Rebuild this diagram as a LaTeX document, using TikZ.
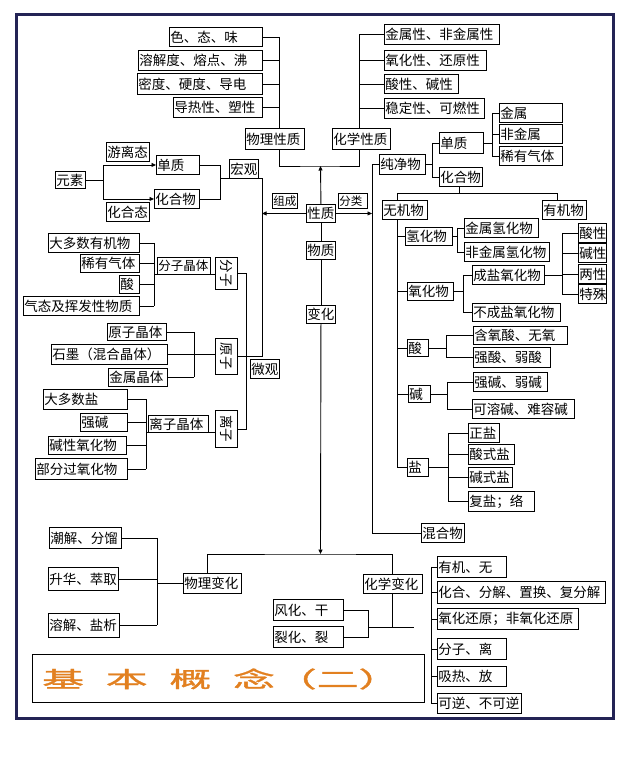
\documentclass[tikz,border=0pt]{standalone}
\usepackage{fontspec}
\usepackage{graphicx}
\setmainfont{Noto Sans CJK SC}
\newfontfamily\titlefont[FakeBold=1.2]{Noto Sans CJK SC}
\usetikzlibrary{arrows.meta}
\definecolor{framecol}{RGB}{35,35,85}
\definecolor{titlecol}{RGB}{226,128,32}
\tikzset{
 box/.style={draw, line width=0.9pt, inner xsep=1pt, inner ysep=0pt, font=\fontsize{13.5}{14}\selectfont},
 smallf/.style={font=\fontsize{11.5}{12}\selectfont},
 midf/.style={font=\fontsize{12.5}{13}\selectfont},
 ln/.style={line width=0.9pt},
 arr/.style={line width=0.9pt,-{Triangle[length=4.5pt,width=4pt]}},
}
\newcommand\bxn[7]{\node[box,anchor=north west,minimum height={(#6-#4)*1pt},#1] (#2) at (#3,#4) {\makebox[\dimexpr#5pt-#3pt-2pt\relax][l]{#7}};}
\begin{document}
\begin{tikzpicture}[x=1pt,y=-1pt]
\useasboundingbox (0,0) rectangle (628,766);
\fill[white] (0,0) rectangle (628,766);
\draw[line width=3pt,framecol] (16,14) rectangle (613,718);

% physical properties
\bxn{}{p1}{169}{27}{262}{46}{色、态、味}
\bxn{}{p2}{138}{50}{262}{70}{溶解度、熔点、沸}
\bxn{}{p3}{137}{73}{262}{94}{密度、硬度、导电}
\bxn{}{p4}{173}{97}{262}{117}{导热性、塑性}
\bxn{}{wlxz}{245}{128}{304}{149}{物理性质}
% chemical properties
\bxn{}{c1}{384}{24}{499}{44}{金属性、非金属性}
\bxn{}{c2}{384}{50}{486}{70}{氧化性、还原性}
\bxn{}{c3}{384}{74}{458}{93}{酸性、碱性}
\bxn{}{c4}{384}{98}{484}{118}{稳定性、可燃性}
\bxn{}{hxxz}{332}{128}{390}{149}{化学性质}
% centre
\bxn{}{xz}{306}{204}{335}{222}{性质}
\bxn{}{wz}{306}{241}{335}{259}{物质}
\bxn{}{bh}{306}{305}{335}{323}{变化}
\bxn{smallf}{zc}{272}{193}{297}{208}{组成}
\bxn{smallf}{fl}{338}{193}{367}{208}{分类}
% macro
\bxn{}{yuansu}{55}{171}{85}{188}{元素}
\bxn{}{yltai}{106}{142}{149}{161}{游离态}
\bxn{}{hhtai}{106}{202}{149}{221}{化合态}
\bxn{}{dz1}{156}{155}{199}{174}{单质}
\bxn{}{hhw1}{154}{189}{199}{208}{化合物}
\bxn{}{hg}{229}{159}{258}{178}{宏观}
% micro
\bxn{}{fz}{215}{257}{237}{289}{\hfill\rotatebox{-90}{分子}\hfill}
\bxn{}{yz}{215}{338}{237}{374}{\hfill\rotatebox{-90}{原子}\hfill}
\bxn{}{lz}{215}{410}{237}{447}{\hfill\rotatebox{-90}{离子}\hfill}
\bxn{}{wg}{250}{359}{279}{378}{微观}
\bxn{}{m1}{48}{233}{139}{252}{大多数有机物}
\bxn{}{m2}{80}{254}{139}{272}{稀有气体}
\bxn{}{m3}{119}{275}{139}{293}{酸}
\bxn{}{m4}{23}{296}{139}{315}{气态及挥发性物质}
\bxn{midf}{fzjt}{157}{257}{210}{274}{分子晶体}
\bxn{}{a1}{107}{323}{166}{340}{原子晶体}
\bxn{}{a2}{51}{344}{167}{364}{石墨（混合晶体）}
\bxn{}{a3}{108}{368}{167}{386}{金属晶体}
\bxn{}{i1}{43}{389}{127}{409}{大多数盐}
\bxn{}{i2}{80}{413}{127}{431}{强碱}
\bxn{}{i3}{48}{436}{126}{454}{碱性氧化物}
\bxn{}{i4}{35}{458}{127}{479}{部分过氧化物}
\bxn{}{lzjt}{148}{415}{208}{432}{离子晶体}
% classification
\bxn{}{cjw}{379}{154}{425}{174}{纯净物}
\bxn{}{dz2}{439}{132}{483}{153}{单质}
\bxn{}{hhw2}{439}{167}{482}{186}{化合物}
\bxn{}{jinshu}{499}{103}{562}{122}{金属}
\bxn{}{feijinshu}{499}{124}{562}{143}{非金属}
\bxn{}{xiyou}{499}{146}{562}{165}{稀有气体}
\bxn{}{wjw}{382}{200}{427}{219}{无机物}
\bxn{}{yjw}{542}{200}{586}{219}{有机物}
\bxn{}{qhw}{405}{227}{452}{245}{氢化物}
\bxn{}{yhw}{407}{282}{453}{300}{氧化物}
\bxn{}{suan}{407}{339}{428}{356}{酸}
\bxn{}{jian}{408}{385}{430}{402}{碱}
\bxn{}{yan}{407}{458}{428}{476}{盐}
\bxn{}{jsqhw}{464}{218}{538}{237}{金属氢化物}
\bxn{}{fjsqhw}{464}{242}{549}{261}{非金属氢化物}
\bxn{}{cyyhw}{472}{265}{544}{284}{成盐氧化物}
\bxn{}{bcyyhw}{472}{303}{560}{321}{不成盐氧化物}
\bxn{}{sx}{578}{223}{606}{242}{酸性}
\bxn{}{jx}{578}{243}{606}{262}{碱性}
\bxn{}{lx}{578}{264}{606}{283}{两性}
\bxn{}{ts}{578}{284}{606}{303}{特殊}
\bxn{}{hys}{473}{326}{567}{344}{含氧酸、无氧}
\bxn{}{qs}{473}{347}{550}{367}{强酸、弱酸}
\bxn{}{qj}{473}{372}{547}{391}{强碱、弱碱}
\bxn{}{krj}{472}{399}{574}{418}{可溶碱、难容碱}
\bxn{}{zy}{468}{423}{499}{442}{正盐}
\bxn{}{sy}{468}{444}{514}{464}{酸式盐}
\bxn{}{jy}{468}{467}{512}{487}{碱式盐}
\bxn{}{fy}{468}{491}{534}{511}{复盐；络}
\bxn{}{hhwu}{421}{523}{464}{542}{混合物}
% changes
\bxn{}{ph1}{49}{527}{121}{548}{潮解、分馏}
\bxn{}{ph2}{48}{567}{118}{590}{升华、萃取}
\bxn{}{ph3}{48}{613}{119}{637}{溶解、盐析}
\bxn{}{wlbh}{183}{573}{241}{593}{物理变化}
\bxn{}{hxbh}{363}{574}{422}{593}{化学变化}
\bxn{}{fh}{273}{599}{343}{620}{风化、干}
\bxn{}{lh}{273}{626}{343}{647}{裂化、裂}
\bxn{}{r1}{437}{556}{506}{577}{有机、无}
\bxn{}{r2}{437}{581}{605}{603}{化合、分解、置换、复分解}
\bxn{}{r3}{437}{608}{578}{629}{氧化还原；非氧化还原}
\bxn{}{r4}{437}{638}{506}{659}{分子、离}
\bxn{}{r5}{437}{666}{506}{686}{吸热、放}
\bxn{}{r6}{437}{693}{521}{713}{可逆、不可逆}
% title
\node[draw,line width=0.9pt,anchor=north west,minimum width=392pt,minimum height=48pt,inner sep=0pt] (tb) at (32,654) {};
\node[anchor=west,inner sep=0pt,text=titlecol] (tt) at (42,679) {\titlefont\fontsize{22}{22}\selectfont\scalebox{1.9}[1]{基\hspace{11.5pt}本\hspace{11.5pt}概\hspace{11.5pt}念（二）}};

% bus coordinates
\coordinate (bP) at (279,0);
\coordinate (bC) at (359,0);
\coordinate (jT) at (320.5,166);
\coordinate (jB) at (320.5,554);
\coordinate (bM) at (262,0);
\coordinate (bR) at (372,0);
\coordinate (bE) at (103,0);
\coordinate (bG) at (220,0);
\coordinate (bF) at (246,0);
\coordinate (bMo) at (154,0);
\coordinate (bAt) at (194,0);
\coordinate (bIo) at (146,0);
\coordinate (bCJ) at (432,0);
\coordinate (bDZ) at (492,0);
\coordinate (jH) at (459,193);
\coordinate (bW) at (397,0);
\coordinate (bYJ) at (557,0);
\coordinate (bQ) at (457,0);
\coordinate (bY) at (463,0);
\coordinate (bS) at (562,0);
\coordinate (bA) at (446,0);
\coordinate (bB) at (447,0);
\coordinate (bSa) at (448,0);
\coordinate (bPh) at (157,0);
\coordinate (bWB) at (207,0);
\coordinate (bHB) at (392,0);
\coordinate (bFh) at (368,0);
\coordinate (jC) at (414,627);
\coordinate (bL) at (431,0);

% properties
\foreach \n in {p1,p2,p3,p4}{\draw[ln] (\n.east) -- (\n.east -| bP);}
\draw[ln] (p1.east -| bP) -- (wlxz.north -| bP);
\foreach \n in {c1,c2,c3,c4}{\draw[ln] (\n.west) -- (\n.west -| bC);}
\draw[ln] (c1.west -| bC) -- (hxxz.north -| bC);
\draw[ln] (wlxz.south -| bP) |- (jT) -| (hxxz.south -| bC);
\draw[arr] (xz.north) -- (jT);
\draw[ln] (xz.south) -- (wz.north);
\draw[ln] (wz.south) -- (bh.north);
\draw[arr] (bh.south) -- (jB);
\draw[arr] (xz.west) -- (xz.west -| bM);
\draw[arr] (xz.east) -- (xz.east -| bR);

% macro
\draw[ln] (yuansu.east) -- (yuansu.east -| bE);
\draw[ln] (bE |- dz1.west) -- (bE |- hhw1.west);
\draw[arr] (bE |- dz1.west) -- (dz1.west);
\draw[arr] (bE |- hhw1.west) -- (hhw1.west);
\draw[ln] (dz1.east) -- (dz1.east -| bG) -- (hhw1.east -| bG) -- (hhw1.east);
\draw[ln] (bG |- hg.south) -- (bM |- hg.south) -- (bM |- yz.east) -- (yz.east);

% micro
\draw[ln] (fz.east) -- (fz.east -| bF) -- (lz.east -| bF) -- (lz.east);
\foreach \n in {m1,m2,m3,m4}{\draw[ln] (\n.east) -- (\n.east -| bMo);}
\draw[ln] (m1.east -| bMo) -- (m4.east -| bMo);
\draw[ln] (bMo |- fzjt.south) -- (fzjt.south -| fz.west);
\foreach \n in {a1,a3}{\draw[ln] (\n.east) -- (\n.east -| bAt);}
\draw[ln] (a1.east -| bAt) -- (a3.east -| bAt);
\draw[ln] (a2.east) -- (a2.east -| yz.west);
\foreach \n in {i1,i2,i3,i4}{\draw[ln] (\n.east) -- (\n.east -| bIo);}
\draw[ln] (i1.east -| bIo) -- (i4.east -| bIo);
\draw[ln] (bIo |- lzjt.south) -- (lzjt.south -| lz.west);

% classification
\draw[ln] (cjw.west) -| (bR |- hhwu.west) -- (hhwu.west);
\draw[ln] (cjw.east) -- (cjw.east -| bCJ);
\draw[ln] (dz2.west -| bCJ) -- (hhw2.west -| bCJ);
\foreach \n in {dz2,hhw2}{\draw[ln] (\n.west -| bCJ) -- (\n.west);}
\draw[ln] (dz2.east) -- (dz2.east -| bDZ);
\draw[ln] (jinshu.west -| bDZ) -- (xiyou.west -| bDZ);
\foreach \n in {jinshu,feijinshu,xiyou}{\draw[ln] (\n.west -| bDZ) -- (\n.west);}
\draw[ln] (hhw2.south -| jH) -- (jH);
\draw[ln] (wjw.north -| bW) -- (bW |- jH) -- (bYJ |- jH) -- (yjw.north -| bYJ);
\draw[ln] (wjw.south -| bW) |- (yan.west);
\foreach \n in {qhw,yhw,suan,jian}{\draw[ln] (\n.west -| bW) -- (\n.west);}
\draw[ln] (qhw.east) -- (qhw.east -| bQ);
\draw[ln] (jsqhw.west -| bQ) -- (fjsqhw.west -| bQ);
\foreach \n in {jsqhw,fjsqhw}{\draw[ln] (\n.west -| bQ) -- (\n.west);}
\draw[ln] (yhw.east) -- (yhw.east -| bY);
\draw[ln] (cyyhw.west -| bY) -- (bcyyhw.west -| bY);
\foreach \n in {cyyhw,bcyyhw}{\draw[ln] (\n.west -| bY) -- (\n.west);}
\draw[ln] (cyyhw.east) -- (cyyhw.east -| bS);
\draw[ln] (sx.west -| bS) -- (ts.west -| bS);
\foreach \n in {sx,jx,lx,ts}{\draw[ln] (\n.west -| bS) -- (\n.west);}
\draw[ln] (suan.east) -- (suan.east -| bA);
\draw[ln] (hys.west -| bA) -- (qs.west -| bA);
\foreach \n in {hys,qs}{\draw[ln] (\n.west -| bA) -- (\n.west);}
\draw[ln] (jian.east) -- (jian.east -| bB);
\draw[ln] (qj.west -| bB) -- (krj.west -| bB);
\foreach \n in {qj,krj}{\draw[ln] (\n.west -| bB) -- (\n.west);}
\draw[ln] (yan.east) -- (yan.east -| bSa);
\draw[ln] (zy.west -| bSa) -- (fy.west -| bSa);
\foreach \n in {zy,sy,jy,fy}{\draw[ln] (\n.west -| bSa) -- (\n.west);}

% changes
\foreach \n in {ph1,ph2,ph3}{\draw[ln] (\n.east) -- (\n.east -| bPh);}
\draw[ln] (ph1.east -| bPh) -- (ph3.east -| bPh);
\draw[ln] (bPh |- wlbh.west) -- (wlbh.west);
\draw[ln] (wlbh.north -| bWB) |- (jB) -| (hxbh.north -| bHB);
\draw[ln] (hxbh.south -| bHB) -- (bHB |- jC);
\draw[ln] (fh.east) -- (fh.east -| bFh) -- (lh.east -| bFh) -- (lh.east);
\draw[ln] (bFh |- jC) -- (jC);
\draw[ln] (r1.west -| bL) -- (r6.west -| bL);
\foreach \n in {r1,r2,r3,r4,r5,r6}{\draw[ln] (\n.west -| bL) -- (\n.west);}
\end{tikzpicture}
\end{document}
